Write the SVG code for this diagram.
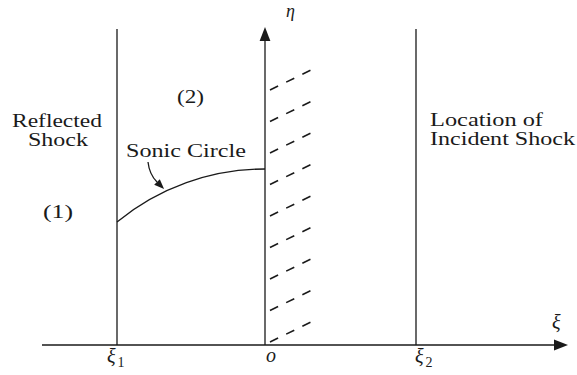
<svg xmlns="http://www.w3.org/2000/svg" width="577" height="375" viewBox="0 0 577 375">
<defs>
<style>
.ln{stroke:#1a1a1a;stroke-width:1.3;fill:none}
.hatch{stroke:#1a1a1a;stroke-width:1.6;fill:none;stroke-dasharray:9 9}
.t{font-family:"Liberation Serif","Times New Roman",serif;font-size:18px;fill:#1a1a1a}
.m{font-family:"Liberation Serif","Times New Roman",serif;font-style:italic;font-size:20px;fill:#1a1a1a}
.s{font-family:"Liberation Serif","Times New Roman",serif;font-size:14px;fill:#1a1a1a}
</style>
<marker id="ax" markerUnits="userSpaceOnUse" markerWidth="14" markerHeight="12" refX="0" refY="5" orient="auto" viewBox="0 0 13 10">
<path d="M0,0 L13,5 L0,10 z" fill="#1a1a1a"/>
</marker>
<marker id="sa" markerUnits="userSpaceOnUse" markerWidth="10" markerHeight="9" refX="0" refY="4" orient="auto" viewBox="0 0 10 8">
<path d="M0,0 L10,4 L0,8 z" fill="#1a1a1a"/>
</marker>
</defs>
<rect width="577" height="375" fill="#ffffff"/>

<g id="connectors">
<line id="xi-axis" class="ln" x1="42" y1="345" x2="554" y2="345" marker-end="url(#ax)"/>
<line id="eta-axis" class="ln" x1="265" y1="345" x2="265" y2="41" marker-end="url(#ax)"/>
<line id="xi1-line" class="ln" x1="117" y1="29" x2="117" y2="345"/>
<line id="xi2-line" class="ln" x1="416" y1="29" x2="416" y2="345"/>
<path id="sonic-circle" class="ln" d="M117,222 A233,233 0 0 1 265,169"/>
<path id="sonic-arrow" class="ln" stroke-width="1.1" d="M148,162 C149,171 152,177 157,182" marker-end="url(#sa)"/>
</g>

<g id="wall-hatch">
<line class="hatch" x1="270" y1="90" x2="311" y2="70"/>
<line class="hatch" x1="270" y1="121.5" x2="311" y2="101.5"/>
<line class="hatch" x1="270" y1="153" x2="311" y2="133"/>
<line class="hatch" x1="270" y1="184.5" x2="311" y2="164.5"/>
<line class="hatch" x1="270" y1="216" x2="311" y2="196"/>
<line class="hatch" x1="270" y1="247.5" x2="311" y2="227.5"/>
<line class="hatch" x1="270" y1="279" x2="311" y2="259"/>
<line class="hatch" x1="270" y1="310.5" x2="311" y2="290.5"/>
<line class="hatch" x1="270" y1="342" x2="311" y2="322"/>
</g>

<g id="label-reflected">
<text class="t" x="12" y="127" textLength="90" lengthAdjust="spacingAndGlyphs">Reflected</text>
<text class="t" x="28" y="146" textLength="60" lengthAdjust="spacingAndGlyphs">Shock</text>
</g>
<g id="label-region1">
<text class="t" x="43" y="218" textLength="30" lengthAdjust="spacingAndGlyphs">(1)</text>
</g>
<g id="label-region2">
<text class="t" x="177" y="103" textLength="27" lengthAdjust="spacingAndGlyphs">(2)</text>
</g>
<g id="label-sonic">
<text class="t" x="126" y="157" textLength="120" lengthAdjust="spacingAndGlyphs">Sonic Circle</text>
</g>
<g id="label-incident">
<text class="t" x="430" y="126" textLength="113" lengthAdjust="spacingAndGlyphs">Location of</text>
<text class="t" x="430" y="145" textLength="145" lengthAdjust="spacingAndGlyphs">Incident Shock</text>
</g>
<g id="label-eta">
<text class="m" x="286" y="17" style="font-size:18px">η</text>
</g>
<g id="label-xi">
<text class="m" x="552" y="329">ξ</text>
</g>
<g id="label-xi1">
<text class="m" x="107" y="363">ξ</text>
<text class="s" x="117.5" y="367">1</text>
</g>
<g id="label-origin">
<text class="m" x="266" y="362">o</text>
</g>
<g id="label-xi2">
<text class="m" x="415" y="363">ξ</text>
<text class="s" x="425.5" y="367">2</text>
</g>
</svg>
